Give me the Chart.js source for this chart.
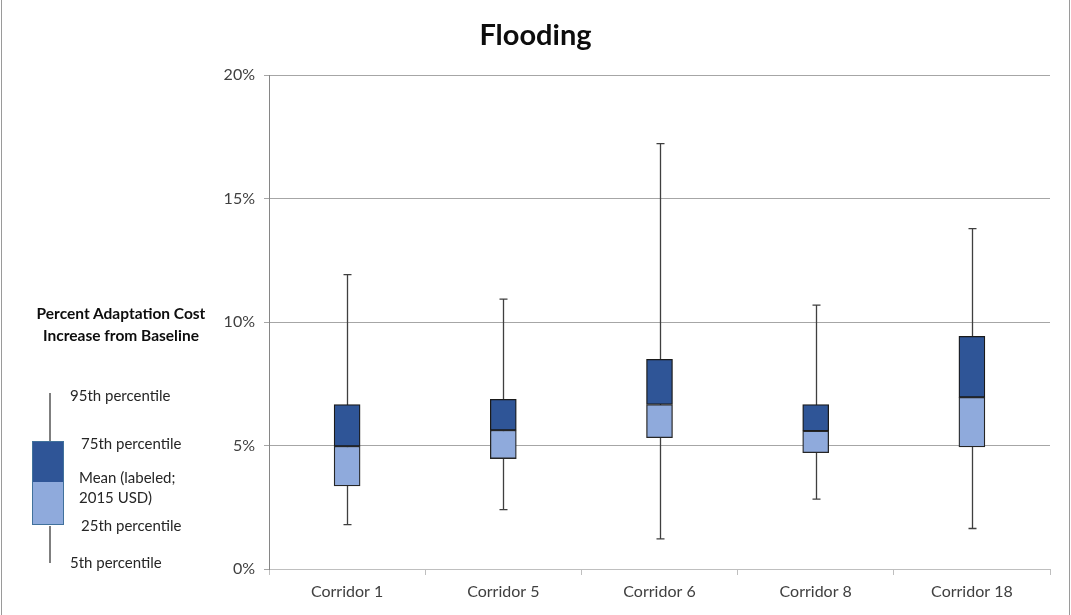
<!DOCTYPE html>
<html>
<head>
<meta charset="utf-8">
<script src="https://cdn.jsdelivr.net/npm/chart.js@4"></script>
<style>
  html, body { margin: 0; padding: 0; background: #fff; }
  #wrap { position: relative; width: 1071px; height: 615px; overflow: hidden; font-family: Lato, "Open Sans", sans-serif; color: #262626; }
  #wrap::before, #wrap::after { content: ""; position: absolute; top: 0; bottom: 0; width: 1px; background: #9a9a9a; }
  #wrap::before { left: 1px; }
  #wrap::after { right: 1px; }
  canvas { position: absolute; left: 0; top: 0; }
  #title { position: absolute; left: 0; width: 1071px; top: 16px; text-align: center; font-weight: bold; font-size: 29px; color: #0d0d0d; }
  .lab { position: absolute; font-size: 15px; white-space: nowrap; line-height: 1; }
  .axt { position: absolute; left: 0; width: 242px; text-align: center; font-weight: bold; font-size: 15.5px; color: #0d0d0d; line-height: 22px; top: 302px; }
  .wl { position: absolute; left: 49px; width: 1.5px; background: #7f7f7f; }
  .bx { position: absolute; left: 32px; width: 30px; border: 1.5px solid #41719c; }
</style>
</head>
<body>
<div id="wrap">
  <canvas id="chart" width="1071" height="615"></canvas>
  <div id="title">Flooding</div>
  <div class="axt">Percent Adaptation Cost<br>Increase from Baseline</div>
  <div class="wl" style="top:393px;height:49px"></div>
  <div class="bx" style="top:441px;height:40px;background:#2f5597;border-bottom:none"></div>
  <div class="bx" style="top:482px;height:42px;background:#8faadc;border-top:none"></div>
  <div class="wl" style="top:526px;height:37px"></div>
  <div class="lab" style="left:70px;top:388px">95th percentile</div>
  <div class="lab" style="left:81px;top:436px">75th percentile</div>
  <div class="lab" style="left:79px;top:470px">Mean (labeled;</div>
  <div class="lab" style="left:79px;top:490px">2015 USD)</div>
  <div class="lab" style="left:81px;top:518px">25th percentile</div>
  <div class="lab" style="left:70px;top:555px">5th percentile</div>
</div>
<script>
// data (percent)
const categories = ["Corridor 1", "Corridor 5", "Corridor 6", "Corridor 8", "Corridor 18"];
const p5  = [1.80, 2.40, 1.22, 2.83, 1.64];
const p25 = [3.36, 4.47, 5.32, 4.71, 4.94];
const mean = [4.97, 5.62, 6.66, 5.59, 6.95];
const p75 = [6.66, 6.87, 8.49, 6.66, 9.42];
const p95 = [11.92, 10.93, 17.22, 10.68, 13.78];
const yTicks = [0, 5, 10, 15, 20];

// whiskers go behind the boxes
const whiskers = {
  id: "whiskers",
  beforeDatasetsDraw(chart) {
    const ctx = chart.ctx;
    const x = chart.scales.x, y = chart.scales.y;
    ctx.save();
    ctx.strokeStyle = "#3f3f3f";
    ctx.lineWidth = 1.3;
    categories.forEach((c, i) => {
      const cx = Math.round(x.getPixelForValue(i)) + 0.5;
      const top = y.getPixelForValue(p95[i]);
      const bot = y.getPixelForValue(p5[i]);
      ctx.beginPath();
      ctx.moveTo(cx, top); ctx.lineTo(cx, bot);
      ctx.moveTo(cx - 4, top); ctx.lineTo(cx + 4, top);
      ctx.moveTo(cx - 4, bot); ctx.lineTo(cx + 4, bot);
      ctx.stroke();
    });
    ctx.restore();
  }
};

new Chart(document.getElementById("chart"), {
  type: "bar",
  data: {
    labels: categories,
    datasets: [
      {
        label: "25th to mean",
        data: p25.map((v, i) => [v, mean[i]]),
        backgroundColor: "#8faadc",
        borderColor: "#262626",
        borderWidth: 1.3,
        borderSkipped: false,
        barThickness: 26,
        grouped: false
      },
      {
        label: "mean to 75th",
        data: mean.map((v, i) => [v, p75[i]]),
        backgroundColor: "#2f5597",
        borderColor: "#1a1a1a",
        borderWidth: 1.3,
        borderSkipped: false,
        barThickness: 26,
        grouped: false
      }
    ]
  },
  options: {
    responsive: false,
    animation: false,
    layout: { padding: { top: 75, right: 21, bottom: 0, left: 0 } },
    plugins: {
      legend: { display: false },
      tooltip: { enabled: false },
      title: { display: false }
    },
    scales: {
      x: {
        offset: true,
        grid: { offset: true, drawOnChartArea: false, color: "#bfbfbf", tickLength: 6 },
        border: { color: "#bfbfbf" },
        ticks: { color: "#404040", font: { family: "Lato", size: 16 }, padding: 7 },
        afterFit: s => { s.height = 46; }
      },
      y: {
        min: 0,
        max: 20,
        afterBuildTicks: s => { s.ticks = yTicks.map(v => ({ value: v })); },
        grid: { color: "#a6a6a6", tickLength: 5 },
        border: { color: "#868686" },
        ticks: { color: "#404040", font: { family: "Lato", size: 16 }, padding: 9, callback: v => v + "%" },
        afterFit: s => { s.width = 269; }
      }
    }
  },
  plugins: [whiskers]
});
</script>
</body>
</html>
